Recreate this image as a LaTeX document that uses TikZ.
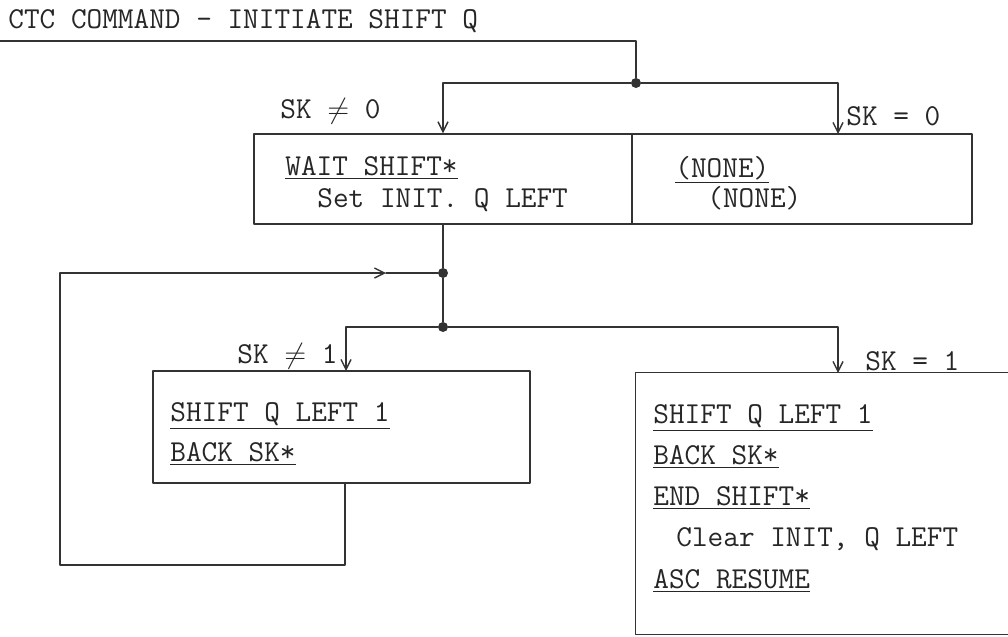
\documentclass[tikz,border=0pt]{standalone}
\usetikzlibrary{arrows.meta}

\begin{document}
\begin{tikzpicture}[
  x=0.5pt,
  y=-0.5pt,
  line cap=round,
  line join=round,
  font=\ttfamily\fontsize{15.2}{18}\selectfont,
  flow/.style={line width=0.7pt, draw=black!80},
  tip/.style={-{Straight Barb[length=5pt,width=5pt]}},
  junction/.style={circle, fill=black!80, inner sep=0pt, minimum size=5pt},
  cell/.style={draw=black!80, line width=0.7pt, inner sep=0pt},
  txt/.style={anchor=base west, inner sep=0pt, text=black!85}
]
  \useasboundingbox (0,0) rectangle (1008,637);

  % Titel
  \node[txt] (title) at (8,28) {CTC COMMAND - INITIATE SHIFT Q};

  % Verzweigung SK = 0
  \coordinate (start) at (0,41);
  \node[junction] (split0) at (636,83) {};

  \node[cell, minimum width=189pt, minimum height=45pt]
    (waitbox) at (443,179) {};
  \node[cell, minimum width=170pt, minimum height=45pt]
    (nonebox) at (802,179) {};
  \coordinate (nonein) at (838,134);

  \draw[flow] (start) -| (split0);
  \draw[flow,tip] (split0) -| (waitbox.north);
  \draw[flow,tip] (split0) -| (nonein);

  \node[txt] (nezero) at (280,118) {SK $\neq$ 0};
  \node[txt] (eqzero) at (846,125) {SK = 0};

  \node[txt] (wait) at (285,175) {\underline{WAIT SHIFT*}};
  \node[txt] (setinit) at (317,207) {Set INIT. Q LEFT};
  \node[txt] (noneA) at (675,177) {\underline{(NONE)}};
  \node[txt] (noneB) at (707,207) {(NONE)};

  % Schleife
  \node[junction] (merge) at (443,273) {};
  \node[junction] (split1) at (443,327) {};

  \draw[flow] (waitbox.south) -- (merge) -- (split1);

  \node[cell, minimum width=188.5pt, minimum height=56pt]
    (shiftbox) at (341.5,427) {};
  \node[inner sep=0pt, minimum width=186pt, minimum height=130.5pt]
    (endbox) at (822,503.5) {};
  \draw[flow]
    (endbox.north east) -- (endbox.north west)
    -- (endbox.south west) -- (endbox.south east);

  \coordinate (shiftin) at (346,371);
  \coordinate (endin) at (838,373);
  \draw[flow,tip] (split1) -| (shiftin);
  \draw[flow,tip] (split1) -| (endin);

  \node[txt] (neone) at (237,363) {SK $\neq$ 1};
  \node[txt] (eqone) at (865,370) {SK = 1};

  % Rueckfuehrung
  \coordinate (loopa) at (345,565);
  \coordinate (loopb) at (60,565);
  \coordinate (loopc) at (60,273);
  \coordinate (looptip) at (386,273);
  \draw[flow,tip]
    (loopa |- shiftbox.south) -- (loopa) -- (loopb)
    -- (loopc) -- (looptip);
  \draw[flow] (looptip) -- (merge);

  % Text SK /= 1
  \node[txt] (shiftA) at (170,421) {\underline{SHIFT Q LEFT 1}};
  \node[txt] (backA) at (170,461) {\underline{BACK SK*}};

  % Text SK = 1
  \node[txt] (shiftB) at (653,423) {\underline{SHIFT Q LEFT 1}};
  \node[txt] (backB) at (653,464) {\underline{BACK SK*}};
  \node[txt] (endshift) at (653,505) {\underline{END SHIFT*}};
  \node[txt] (clear) at (676,546) {Clear INIT, Q LEFT};
  \node[txt] (resume) at (653,588) {\underline{ASC RESUME}};
\end{tikzpicture}
\end{document}
